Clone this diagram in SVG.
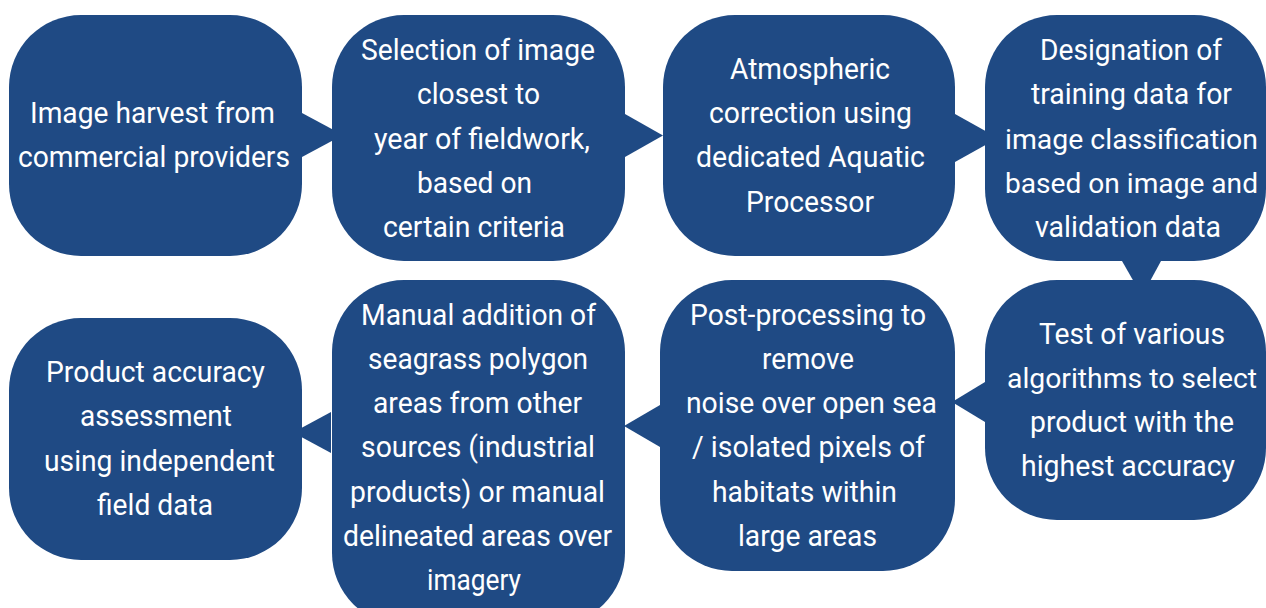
<svg xmlns="http://www.w3.org/2000/svg" width="1266" height="608" viewBox="0 0 1266 608">
  <style>
    .box { fill: #1f4a84; }
    .arrow { fill: #1f4a84; }
    .label { font-family: "Roboto", "Liberation Sans", sans-serif; font-size: 30px; fill: #ffffff; text-anchor: middle; }
    .tight { font-size: 28.5px; }
  </style>
  <rect width="1266" height="608" fill="#ffffff"/>

  <!-- connectors: triangular pointers drawn beneath the boxes -->
  <g id="connectors">
    <polygon class="arrow" points="302,113 302,157 343,135"/>
    <polygon class="arrow" points="625,114 625,157 663,135.5"/>
    <polygon class="arrow" points="955,114 955,162 998,138"/>
    <polygon class="arrow" points="1122,261 1161,261 1142,296"/>
    <polygon class="arrow" points="985,382 985,422 952,402"/>
    <polygon class="arrow" points="660,405 660,447 624,426"/>
    <polygon class="arrow" points="331,412 331,453 293,432.5"/>
  </g>

  <g id="node-harvest">
    <rect class="box" x="9" y="15" width="293" height="241" rx="72"/>
    <text class="label"><tspan x="152.5" y="123" textLength="245" lengthAdjust="spacingAndGlyphs">Image harvest from</tspan><tspan x="154" y="167.3" textLength="272" lengthAdjust="spacingAndGlyphs">commercial providers</tspan></text>
  </g>

  <g id="node-selection">
    <rect class="box" x="332" y="15" width="293" height="246" rx="72"/>
    <text class="label"><tspan x="478" y="60" textLength="234" lengthAdjust="spacingAndGlyphs">Selection of image</tspan><tspan x="478.5" y="104.3" textLength="123" lengthAdjust="spacingAndGlyphs">closest to</tspan><tspan x="482" y="148.6" textLength="216" lengthAdjust="spacingAndGlyphs">year of fieldwork,</tspan><tspan x="474.5" y="192.9" textLength="115" lengthAdjust="spacingAndGlyphs">based on</tspan><tspan x="474" y="237.2" textLength="182" lengthAdjust="spacingAndGlyphs">certain criteria</tspan></text>
  </g>

  <g id="node-atmospheric">
    <rect class="box" x="663" y="15" width="292" height="241" rx="72"/>
    <text class="label"><tspan x="810" y="78.8" textLength="160" lengthAdjust="spacingAndGlyphs">Atmospheric</tspan><tspan x="810.5" y="123.1" textLength="203" lengthAdjust="spacingAndGlyphs">correction using</tspan><tspan x="810.5" y="167.4" textLength="229" lengthAdjust="spacingAndGlyphs">dedicated Aquatic</tspan><tspan x="810" y="211.7" textLength="128" lengthAdjust="spacingAndGlyphs">Processor</tspan></text>
  </g>

  <g id="node-training">
    <rect class="box" x="985" y="15" width="281" height="246" rx="72"/>
    <text class="label"><tspan x="1131" y="60" textLength="182" lengthAdjust="spacingAndGlyphs">Designation of</tspan><tspan x="1131.5" y="104.3" textLength="201" lengthAdjust="spacingAndGlyphs">training data for</tspan><tspan class="tight" x="1131.5" y="148.6" textLength="253" lengthAdjust="spacingAndGlyphs">image classification</tspan><tspan class="tight" x="1131.5" y="192.9" textLength="253" lengthAdjust="spacingAndGlyphs">based on image and</tspan><tspan x="1128" y="237.2" textLength="186" lengthAdjust="spacingAndGlyphs">validation data</tspan></text>
  </g>

  <g id="node-algorithms">
    <rect class="box" x="985" y="280" width="281" height="240" rx="72"/>
    <text class="label"><tspan x="1132" y="343.5" textLength="186" lengthAdjust="spacingAndGlyphs">Test of various</tspan><tspan class="tight" x="1132" y="387.8" textLength="250" lengthAdjust="spacingAndGlyphs">algorithms to select</tspan><tspan x="1132" y="432.1" textLength="204" lengthAdjust="spacingAndGlyphs">product with the</tspan><tspan x="1128" y="476.4" textLength="214" lengthAdjust="spacingAndGlyphs">highest accuracy</tspan></text>
  </g>

  <g id="node-postprocessing">
    <rect class="box" x="660" y="280" width="295" height="291" rx="72"/>
    <text class="label"><tspan x="808" y="324.5" textLength="236" lengthAdjust="spacingAndGlyphs">Post-processing to</tspan><tspan x="808" y="368.8" textLength="92" lengthAdjust="spacingAndGlyphs">remove</tspan><tspan x="811.5" y="413.1" textLength="251" lengthAdjust="spacingAndGlyphs">noise over open sea</tspan><tspan x="808.5" y="457.4" textLength="233" lengthAdjust="spacingAndGlyphs">/ isolated pixels of</tspan><tspan x="804.5" y="501.7" textLength="185" lengthAdjust="spacingAndGlyphs">habitats within</tspan><tspan x="807.5" y="546" textLength="139" lengthAdjust="spacingAndGlyphs">large areas</tspan></text>
  </g>

  <g id="node-manual-addition">
    <rect class="box" x="332" y="280" width="293" height="345" rx="72"/>
    <text class="label"><tspan x="478.5" y="324.5" textLength="235" lengthAdjust="spacingAndGlyphs">Manual addition of</tspan><tspan x="478" y="368.8" textLength="220" lengthAdjust="spacingAndGlyphs">seagrass polygon</tspan><tspan x="477.5" y="413.1" textLength="209" lengthAdjust="spacingAndGlyphs">areas from other</tspan><tspan x="478" y="457.4" textLength="234" lengthAdjust="spacingAndGlyphs">sources (industrial</tspan><tspan x="477.5" y="501.7" textLength="255" lengthAdjust="spacingAndGlyphs">products) or manual</tspan><tspan x="477.5" y="546" textLength="269" lengthAdjust="spacingAndGlyphs">delineated areas over</tspan><tspan x="474" y="590.3" textLength="94" lengthAdjust="spacingAndGlyphs">imagery</tspan></text>
  </g>

  <g id="node-accuracy">
    <rect class="box" x="9" y="318" width="293" height="242" rx="72"/>
    <text class="label"><tspan x="155.5" y="382" textLength="219" lengthAdjust="spacingAndGlyphs">Product accuracy</tspan><tspan x="156" y="426.3" textLength="152" lengthAdjust="spacingAndGlyphs">assessment</tspan><tspan x="159.5" y="470.6" textLength="231" lengthAdjust="spacingAndGlyphs">using independent</tspan><tspan x="155" y="514.9" textLength="116" lengthAdjust="spacingAndGlyphs">field data</tspan></text>
  </g>
</svg>
